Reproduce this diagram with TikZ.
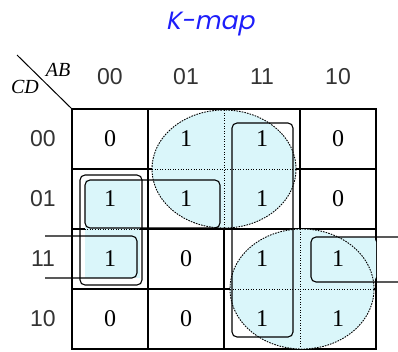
\documentclass[tikz,border=0pt]{standalone}
\usepackage{fontspec}
\setmainfont{Liberation Serif}
\newfontfamily\labelfont{Liberation Sans}
\newfontfamily\titlefont[FakeSlant=0.2]{Poppins}
\definecolor{groupfill}{RGB}{218,246,250}
\definecolor{titleblue}{RGB}{30,30,250}

\begin{document}
\begin{tikzpicture}[x=1pt,y=-1pt,
  gridline/.style={line width=1.4pt},
  loop/.style={line width=1.1pt, rounded corners=5pt},
  ring/.style={fill=groupfill, draw=black, line width=0.9pt, dash pattern=on 1.6pt off 1.1pt},
  cross/.style={line width=0.9pt, dash pattern=on 1pt off 1.6pt},
  bit/.style={font=\fontsize{24}{24}\selectfont, inner sep=0pt},
  hdr/.style={font=\labelfont\fontsize{23}{23}\selectfont, text=black!80, inner sep=0pt},
  var/.style={font=\itshape\fontsize{20}{20}\selectfont, inner sep=0pt}]

\useasboundingbox (0,0) rectangle (398,351);

% title
\node[font=\titlefont\fontsize{25}{25}\selectfont, text=titleblue, inner sep=0pt]
  (title) at (210,24) {K-map};

% corner labels and diagonal
\draw[line width=1pt] (17,55) -- (72,109);
\node[var] (vAB) at (58,70) {AB};
\node[var] (vCD) at (25,87) {CD};

% grid
\draw[gridline] (72,109) rectangle (376,349);
\foreach \x in {148,224,300} \draw[gridline] (\x,109) -- (\x,349);
\foreach \y in {169,229,289} \draw[gridline] (72,\y) -- (376,\y);

% shaded group areas
\fill[groupfill] (85,180) rectangle (140,278);
\fill[groupfill, rounded corners=5pt] (311,237) rectangle (376,282);
\draw[cross] (82,229) -- (142,229);
\draw[ring] (224,169) ellipse [x radius=72pt, y radius=59pt];
\draw[ring] (302,289) ellipse [x radius=72pt, y radius=60pt];
\draw[cross] (152,169) -- (296,169);
\draw[cross] (224,110) -- (224,228);
\draw[cross] (230,289) -- (374,289);
\draw[cross] (300,229) -- (300,349);

% group outlines
\draw[loop] (232,123) rectangle (293,337);
\draw[loop] (85,180) rectangle (220,228);
\draw[loop] (80,175) rectangle (142,285);
\draw[loop] (45,236) -- (137,236) -- (137,278) -- (45,278);
\draw[loop] (398,237) -- (311,237) -- (311,282) -- (398,282);

% column and row headings
\foreach \t [count=\i from 0] in {00,01,11,10} {
  \node[hdr] (col\t) at (110+76*\i,77) {\t};
  \node[hdr] (row\t) at (43,139+60*\i) {\t};
}

% cell values
\foreach \r/\vals [count=\i from 0] in {00/{0,1,1,0},01/{1,1,1,0},11/{1,0,1,1},10/{0,0,1,1}} {
  \foreach \v [count=\j from 0] in \vals
    \node[bit] (cell\r-\j) at (110+76*\j,139+60*\i) {\v};
}
\end{tikzpicture}
\end{document}
